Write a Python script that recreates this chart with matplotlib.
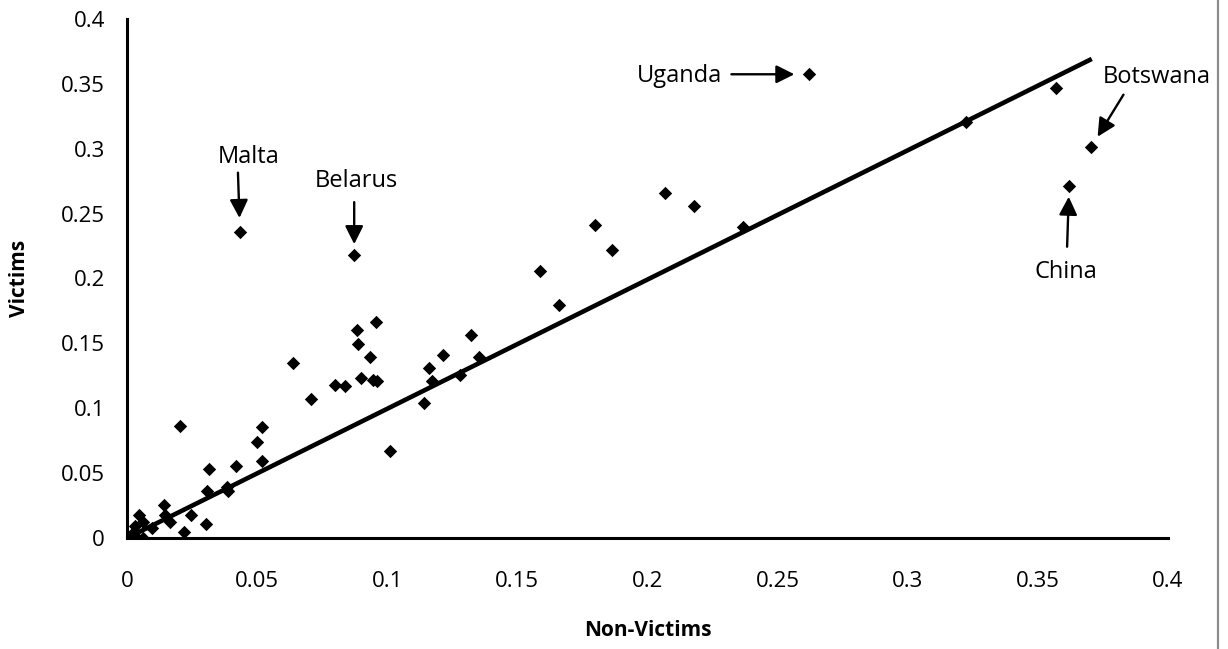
import matplotlib
matplotlib.use("Agg")
import matplotlib.pyplot as plt
from matplotlib.lines import Line2D
import numpy as np

plt.rcParams['font.family'] = ['Open Sans', 'DejaVu Sans']

# ---- data ----
non_victims = [0.002, 0.004, 0.006, 0.0026, 0.0032, 0.0045, 0.006, 0.0097,
               0.0141, 0.0147, 0.0166, 0.0245, 0.0220, 0.0305, 0.0306, 0.0316,
               0.0383, 0.0390, 0.0418, 0.0203, 0.0500, 0.0518, 0.0517, 0.0434,
               0.0638, 0.0706, 0.0798, 0.0839, 0.0873, 0.0884, 0.0888, 0.0898,
               0.0935, 0.0946, 0.0961, 0.0955, 0.1012, 0.1140, 0.1159, 0.1173,
               0.1215, 0.1281, 0.1321, 0.1353, 0.1588, 0.1660, 0.1800, 0.1864,
               0.2069, 0.2178, 0.2366, 0.2622, 0.3223, 0.3569, 0.3620, 0.3706]
victims = [0.001, 0.000, 0.000, 0.0049, 0.0092, 0.0177, 0.012, 0.0075,
           0.0254, 0.0177, 0.0120, 0.0175, 0.0049, 0.0105, 0.0365, 0.0529,
           0.0395, 0.0365, 0.0555, 0.0865, 0.0737, 0.0853, 0.0596, 0.2361,
           0.1351, 0.1071, 0.1179, 0.1171, 0.2180, 0.1603, 0.1495, 0.1231,
           0.1397, 0.1218, 0.1210, 0.1667, 0.0673, 0.1038, 0.1308, 0.1212,
           0.1408, 0.1256, 0.1562, 0.1393, 0.2060, 0.1796, 0.2410, 0.2216,
           0.2657, 0.2561, 0.2395, 0.3574, 0.3209, 0.3466, 0.2715, 0.3016]

trend_slope = 0.996
trend_intercept = 0.0
trend_x = [0.001, 0.3707]

labels = ["Malta", "Belarus", "Uganda", "Botswana", "China"]
label_x = [0.0434, 0.0873, 0.2622, 0.3706, 0.3620]
label_y = [0.2361, 0.2180, 0.3574, 0.3016, 0.2715]

x_ticks = [0, 0.05, 0.1, 0.15, 0.2, 0.25, 0.3, 0.35, 0.4]
y_ticks = [0, 0.05, 0.1, 0.15, 0.2, 0.25, 0.3, 0.35, 0.4]
x_ticklabels = ["0", "0.05", "0.1", "0.15", "0.2", "0.25", "0.3", "0.35", "0.4"]
y_ticklabels = ["0", "0.05", "0.1", "0.15", "0.2", "0.25", "0.3", "0.35", "0.4"]

# ---- layout (pixel offsets for annotations) ----
W, H = 1228, 649
fig = plt.figure(figsize=(W / 100, H / 100), dpi=100)
ax = fig.add_axes([127 / W, 1 - 538 / H, 1041 / W, 519 / H])

ax.scatter(non_victims, victims, marker='D', s=6.8 ** 2, color='black',
           linewidths=0, zorder=3)
tx = np.array(trend_x)
ax.plot(tx, trend_slope * tx + trend_intercept, color='black', lw=3.3,
        solid_capstyle='butt', zorder=2)

ax.set_xlim(0, 0.4)
ax.set_ylim(0, 0.4)
ax.set_xticks(x_ticks)
ax.set_xticklabels(x_ticklabels)
ax.set_yticks(y_ticks)
ax.set_yticklabels(y_ticklabels)
ax.tick_params(axis='x', length=0, pad=24, labelsize=16)
ax.tick_params(axis='y', length=0, pad=16, labelsize=16)
for s in ['top', 'right']:
    ax.spines[s].set_visible(False)
for s in ['left', 'bottom']:
    ax.spines[s].set_linewidth(2.2)
    ax.spines[s].set_color('black')

ax.set_xlabel("Non-Victims", fontsize=15, fontweight='bold')
ax.set_ylabel("Victims", fontsize=15, fontweight='bold')
ax.xaxis.set_label_coords(0.5, -0.179)
ax.yaxis.set_label_coords(-0.103, 0.5)
ax.xaxis.label.set_va('center')
ax.yaxis.label.set_va('center')

# arrow tail offsets (px), gap at tip (px), text centre offsets (px)
tail_off = [(-2, 59), (0, 53), (-78, 0), (32, 52), (-2, -61)]
tip_gap = [13.7, 11, 15, 11.7, 11]
text_off = [(9, 75), (2, 74), (-129.5, -2), (65, 70), (-3, -86)]

for name, px, py, to, g, so in zip(labels, label_x, label_y, tail_off,
                                   tip_gap, text_off):
    ax.annotate('', xy=(px, py), xycoords='data', xytext=to,
                textcoords='offset pixels',
                arrowprops=dict(arrowstyle='-|>,head_length=1.1,head_width=0.55',
                                mutation_scale=10, color='black', lw=1.7,
                                shrinkA=0, shrinkB=g * 0.72))
    ax.annotate(name, xy=(px, py), xycoords='data', xytext=so,
                textcoords='offset pixels', ha='center', va='center',
                fontsize=17, color='black')

fig.add_artist(Line2D([1218 / W, 1218 / W], [0, 1], color='#8c8c8c', lw=1.6))

fig.savefig("out.png", dpi=100)
